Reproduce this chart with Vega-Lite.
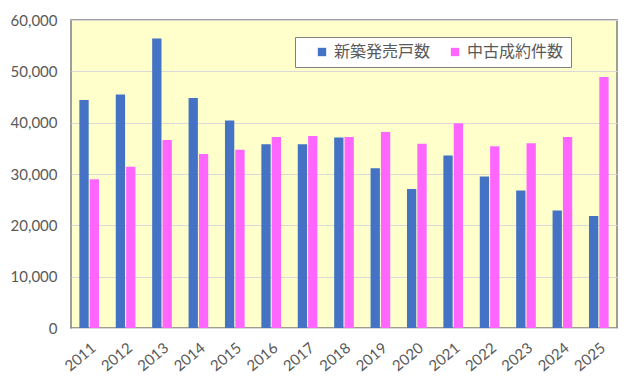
{
  "$schema": "https://vega.github.io/schema/vega-lite/v6.json",
  "width": 546,
  "height": 308,
  "autosize": {"type": "none"},
  "padding": {"left": 71, "top": 20, "right": 23, "bottom": 57},
  "background": "#FFFFFF",
  "data": {
    "values": [
      {"year": "2011", "series": "新築発売戸数", "value": 44400},
      {"year": "2011", "series": "中古成約件数", "value": 29000},
      {"year": "2012", "series": "新築発売戸数", "value": 45500},
      {"year": "2012", "series": "中古成約件数", "value": 31400},
      {"year": "2013", "series": "新築発売戸数", "value": 56400},
      {"year": "2013", "series": "中古成約件数", "value": 36600},
      {"year": "2014", "series": "新築発売戸数", "value": 44800},
      {"year": "2014", "series": "中古成約件数", "value": 33900},
      {"year": "2015", "series": "新築発売戸数", "value": 40400},
      {"year": "2015", "series": "中古成約件数", "value": 34700},
      {"year": "2016", "series": "新築発売戸数", "value": 35800},
      {"year": "2016", "series": "中古成約件数", "value": 37200},
      {"year": "2017", "series": "新築発売戸数", "value": 35800},
      {"year": "2017", "series": "中古成約件数", "value": 37400},
      {"year": "2018", "series": "新築発売戸数", "value": 37100},
      {"year": "2018", "series": "中古成約件数", "value": 37200},
      {"year": "2019", "series": "新築発売戸数", "value": 31100},
      {"year": "2019", "series": "中古成約件数", "value": 38200},
      {"year": "2020", "series": "新築発売戸数", "value": 27100},
      {"year": "2020", "series": "中古成約件数", "value": 35900},
      {"year": "2021", "series": "新築発売戸数", "value": 33600},
      {"year": "2021", "series": "中古成約件数", "value": 39900},
      {"year": "2022", "series": "新築発売戸数", "value": 29500},
      {"year": "2022", "series": "中古成約件数", "value": 35400},
      {"year": "2023", "series": "新築発売戸数", "value": 26800},
      {"year": "2023", "series": "中古成約件数", "value": 36000},
      {"year": "2024", "series": "新築発売戸数", "value": 22900},
      {"year": "2024", "series": "中古成約件数", "value": 37200},
      {"year": "2025", "series": "新築発売戸数", "value": 21800},
      {"year": "2025", "series": "中古成約件数", "value": 48900}
    ]
  },
  "mark": {"type": "bar"},
  "encoding": {
    "x": {
      "field": "year",
      "type": "nominal",
      "sort": null,
      "scale": {"paddingInner": 0.46, "paddingOuter": 0.23},
      "axis": {
        "title": null,
        "labelAngle": -40,
        "labelAlign": "right",
        "labelBaseline": "top",
        "labelPadding": 12,
        "labelDx": 4,
        "labelFontSize": 15,
        "labelFont": "Lato",
        "labelColor": "#595959",
        "domain": false,
        "ticks": false
      }
    },
    "xOffset": {
      "field": "series",
      "type": "nominal",
      "sort": ["新築発売戸数", "中古成約件数"],
      "scale": {"paddingInner": 0.1}
    },
    "y": {
      "field": "value",
      "type": "quantitative",
      "scale": {"domain": [0, 60000], "nice": false},
      "axis": {
        "title": null,
        "values": [0, 10000, 20000, 30000, 40000, 50000, 60000],
        "format": ",d",
        "labelFontSize": 15,
        "labelFont": "Lato",
        "labelColor": "#595959",
        "labelPadding": 14,
        "domain": false,
        "ticks": false,
        "gridColor": "#D9D9D9",
        "gridWidth": 1.2
      }
    },
    "color": {
      "field": "series",
      "type": "nominal",
      "sort": ["新築発売戸数", "中古成約件数"],
      "scale": {"domain": ["新築発売戸数", "中古成約件数"], "range": ["#4472C4", "#FF66FF"]},
      "legend": {
        "title": null,
        "orient": "none",
        "legendX": 224,
        "legendY": 17,
        "direction": "horizontal",
        "fillColor": "#FFFFFF",
        "strokeColor": "#7F7F7F",
        "padding": 7,
        "symbolOffset": 12,
        "symbolType": "square",
        "symbolSize": 70,
        "symbolStrokeWidth": 0,
        "labelFont": "Noto Sans CJK JP",
        "labelFontSize": 16,
        "labelColor": "#595959",
        "labelOffset": 4,
        "columnPadding": 4
      }
    }
  },
  "config": {
    "view": {"fill": "#FFFFCC", "stroke": "#7F7F7F", "strokeWidth": 1.5}
  }
}
